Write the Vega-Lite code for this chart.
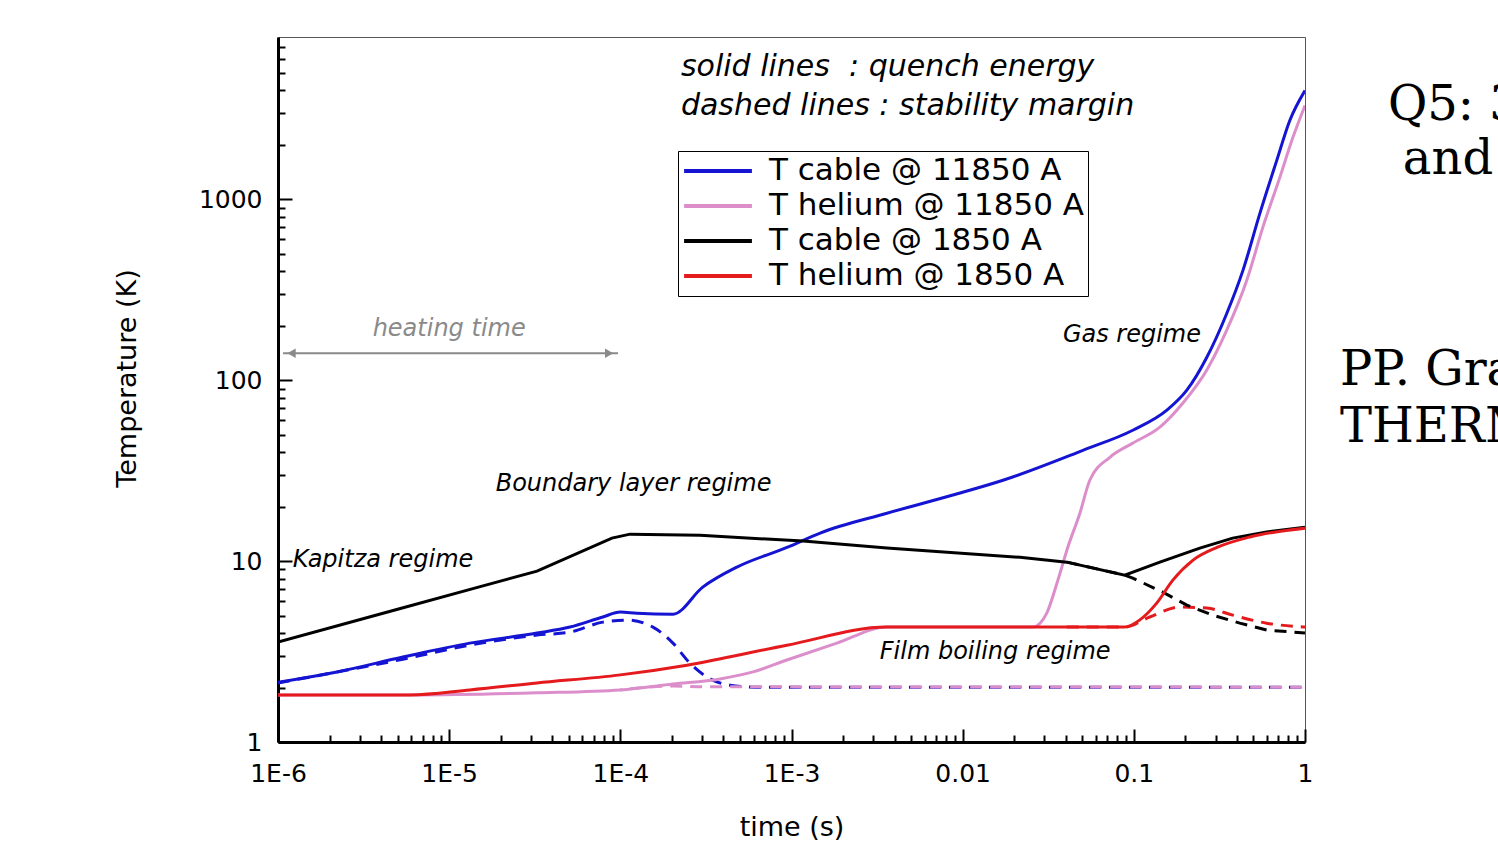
{
  "$schema": "https://vega.github.io/schema/vega-lite/v6.json",
  "width": 1027,
  "height": 705,
  "autosize": {"type": "none"},
  "padding": {"left": 278, "top": 37, "right": 193, "bottom": 114},
  "background": "white",
  "config": {
    "view": {"stroke": "#555555", "strokeWidth": 1},
    "font": "DejaVu Sans",
    "axis": {
      "labelFont": "DejaVu Sans", "labelFontSize": 25, "labelColor": "black",
      "titleFont": "DejaVu Sans", "titleFontSize": 27, "titleFontWeight": "normal", "titleColor": "black",
      "domainColor": "black", "domainWidth": 3, "tickColor": "black", "tickWidth": 2, "grid": false,
      "labelOverlap": false, "labelFlush": false
    }
  },
  "datasets": {
    "curves": [
      {"s": "T cable @ 11850 A", "k": "dashed", "t": 1e-6, "T": 2.12},
      {"s": "T cable @ 11850 A", "k": "dashed", "t": 5.37e-6, "T": 2.87},
      {"s": "T cable @ 11850 A", "k": "dashed", "t": 1.32e-5, "T": 3.43},
      {"s": "T cable @ 11850 A", "k": "dashed", "t": 3.26e-5, "T": 3.9},
      {"s": "T cable @ 11850 A", "k": "dashed", "t": 5.08e-5, "T": 4.05},
      {"s": "T cable @ 11850 A", "k": "dashed", "t": 7.9e-5, "T": 4.6},
      {"s": "T cable @ 11850 A", "k": "dashed", "t": 1.09e-4, "T": 4.72},
      {"s": "T cable @ 11850 A", "k": "dashed", "t": 1.55e-4, "T": 4.32},
      {"s": "T cable @ 11850 A", "k": "dashed", "t": 2.03e-4, "T": 3.52},
      {"s": "T cable @ 11850 A", "k": "dashed", "t": 2.55e-4, "T": 2.73},
      {"s": "T cable @ 11850 A", "k": "dashed", "t": 3.2e-4, "T": 2.29},
      {"s": "T cable @ 11850 A", "k": "dashed", "t": 4.37e-4, "T": 2.06},
      {"s": "T cable @ 11850 A", "k": "dashed", "t": 6.5e-4, "T": 2.01},
      {"s": "T cable @ 11850 A", "k": "dashed", "t": 1, "T": 2.01},

      {"s": "T cable @ 1850 A", "k": "dashed", "t": 0.0406, "T": 9.87},
      {"s": "T cable @ 1850 A", "k": "dashed", "t": 0.0885, "T": 8.37},
      {"s": "T cable @ 1850 A", "k": "dashed", "t": 0.0986, "T": 8.05},
      {"s": "T cable @ 1850 A", "k": "dashed", "t": 0.1476, "T": 6.74},
      {"s": "T cable @ 1850 A", "k": "dashed", "t": 0.204, "T": 5.71},
      {"s": "T cable @ 1850 A", "k": "dashed", "t": 0.289, "T": 5.03},
      {"s": "T cable @ 1850 A", "k": "dashed", "t": 0.416, "T": 4.54},
      {"s": "T cable @ 1850 A", "k": "dashed", "t": 0.597, "T": 4.16},
      {"s": "T cable @ 1850 A", "k": "dashed", "t": 1, "T": 4.0},

      {"s": "T helium @ 1850 A", "k": "dashed", "t": 0.0406, "T": 4.32},
      {"s": "T helium @ 1850 A", "k": "dashed", "t": 0.0885, "T": 4.32},
      {"s": "T helium @ 1850 A", "k": "dashed", "t": 0.124, "T": 4.91},
      {"s": "T helium @ 1850 A", "k": "dashed", "t": 0.186, "T": 5.57},
      {"s": "T helium @ 1850 A", "k": "dashed", "t": 0.267, "T": 5.5},
      {"s": "T helium @ 1850 A", "k": "dashed", "t": 0.378, "T": 5.03},
      {"s": "T helium @ 1850 A", "k": "dashed", "t": 0.597, "T": 4.54},
      {"s": "T helium @ 1850 A", "k": "dashed", "t": 1, "T": 4.32},

      {"s": "T helium @ 11850 A", "k": "dashed", "t": 1e-4, "T": 1.94},
      {"s": "T helium @ 11850 A", "k": "dashed", "t": 2.03e-4, "T": 2.04},
      {"s": "T helium @ 11850 A", "k": "dashed", "t": 3.2e-4, "T": 2.02},
      {"s": "T helium @ 11850 A", "k": "dashed", "t": 1, "T": 2.01},

      {"s": "T helium @ 11850 A", "k": "solid", "t": 1e-6, "T": 1.82},
      {"s": "T helium @ 11850 A", "k": "solid", "t": 5.9e-6, "T": 1.82},
      {"s": "T helium @ 11850 A", "k": "solid", "t": 3.26e-5, "T": 1.87},
      {"s": "T helium @ 11850 A", "k": "solid", "t": 1e-4, "T": 1.94},
      {"s": "T helium @ 11850 A", "k": "solid", "t": 2.03e-4, "T": 2.09},
      {"s": "T helium @ 11850 A", "k": "solid", "t": 3.82e-4, "T": 2.23},
      {"s": "T helium @ 11850 A", "k": "solid", "t": 5.96e-4, "T": 2.44},
      {"s": "T helium @ 11850 A", "k": "solid", "t": 9.4e-4, "T": 2.84},
      {"s": "T helium @ 11850 A", "k": "solid", "t": 1.84e-3, "T": 3.52},
      {"s": "T helium @ 11850 A", "k": "solid", "t": 3.61e-3, "T": 4.32},
      {"s": "T helium @ 11850 A", "k": "solid", "t": 0.0257, "T": 4.32},
      {"s": "T helium @ 11850 A", "k": "solid", "t": 0.031, "T": 5.16},
      {"s": "T helium @ 11850 A", "k": "solid", "t": 0.036, "T": 7.85},
      {"s": "T helium @ 11850 A", "k": "solid", "t": 0.0411, "T": 11.9},
      {"s": "T helium @ 11850 A", "k": "solid", "t": 0.0484, "T": 18.4},
      {"s": "T helium @ 11850 A", "k": "solid", "t": 0.0553, "T": 28.0},
      {"s": "T helium @ 11850 A", "k": "solid", "t": 0.0724, "T": 37.5},
      {"s": "T helium @ 11850 A", "k": "solid", "t": 0.0986, "T": 44.9},
      {"s": "T helium @ 11850 A", "k": "solid", "t": 0.142, "T": 55.0},
      {"s": "T helium @ 11850 A", "k": "solid", "t": 0.193, "T": 74.6},
      {"s": "T helium @ 11850 A", "k": "solid", "t": 0.267, "T": 114},
      {"s": "T helium @ 11850 A", "k": "solid", "t": 0.349, "T": 189},
      {"s": "T helium @ 11850 A", "k": "solid", "t": 0.457, "T": 357},
      {"s": "T helium @ 11850 A", "k": "solid", "t": 0.567, "T": 700},
      {"s": "T helium @ 11850 A", "k": "solid", "t": 0.713, "T": 1323},
      {"s": "T helium @ 11850 A", "k": "solid", "t": 0.85, "T": 2202},
      {"s": "T helium @ 11850 A", "k": "solid", "t": 1, "T": 3306},

      {"s": "T cable @ 11850 A", "k": "solid", "t": 1e-6, "T": 2.14},
      {"s": "T cable @ 11850 A", "k": "solid", "t": 2.21e-6, "T": 2.44},
      {"s": "T cable @ 11850 A", "k": "solid", "t": 5.37e-6, "T": 2.95},
      {"s": "T cable @ 11850 A", "k": "solid", "t": 1.32e-5, "T": 3.52},
      {"s": "T cable @ 11850 A", "k": "solid", "t": 3.26e-5, "T": 4.0},
      {"s": "T cable @ 11850 A", "k": "solid", "t": 5.08e-5, "T": 4.32},
      {"s": "T cable @ 11850 A", "k": "solid", "t": 7.9e-5, "T": 4.91},
      {"s": "T cable @ 11850 A", "k": "solid", "t": 1e-4, "T": 5.23},
      {"s": "T cable @ 11850 A", "k": "solid", "t": 1.25e-4, "T": 5.15},
      {"s": "T cable @ 11850 A", "k": "solid", "t": 2.03e-4, "T": 5.09},
      {"s": "T cable @ 11850 A", "k": "solid", "t": 3.03e-4, "T": 7.18},
      {"s": "T cable @ 11850 A", "k": "solid", "t": 4.8e-4, "T": 9.27},
      {"s": "T cable @ 11850 A", "k": "solid", "t": 9.4e-4, "T": 11.9},
      {"s": "T cable @ 11850 A", "k": "solid", "t": 1.47e-3, "T": 14.3},
      {"s": "T cable @ 11850 A", "k": "solid", "t": 3.61e-3, "T": 18.4},
      {"s": "T cable @ 11850 A", "k": "solid", "t": 8.77e-3, "T": 23.2},
      {"s": "T cable @ 11850 A", "k": "solid", "t": 0.0172, "T": 28.0},
      {"s": "T cable @ 11850 A", "k": "solid", "t": 0.0504, "T": 41.0},
      {"s": "T cable @ 11850 A", "k": "solid", "t": 0.0986, "T": 52.9},
      {"s": "T cable @ 11850 A", "k": "solid", "t": 0.156, "T": 68.3},
      {"s": "T cable @ 11850 A", "k": "solid", "t": 0.204, "T": 88.1},
      {"s": "T cable @ 11850 A", "k": "solid", "t": 0.267, "T": 134},
      {"s": "T cable @ 11850 A", "k": "solid", "t": 0.349, "T": 234},
      {"s": "T cable @ 11850 A", "k": "solid", "t": 0.434, "T": 405},
      {"s": "T cable @ 11850 A", "k": "solid", "t": 0.545, "T": 837},
      {"s": "T cable @ 11850 A", "k": "solid", "t": 0.684, "T": 1642},
      {"s": "T cable @ 11850 A", "k": "solid", "t": 0.815, "T": 2731},
      {"s": "T cable @ 11850 A", "k": "solid", "t": 1, "T": 4000},

      {"s": "T cable @ 1850 A", "k": "solid", "t": 1e-6, "T": 3.57},
      {"s": "T cable @ 1850 A", "k": "solid", "t": 5e-6, "T": 5.42},
      {"s": "T cable @ 1850 A", "k": "solid", "t": 1.5e-5, "T": 7.2},
      {"s": "T cable @ 1850 A", "k": "solid", "t": 3.26e-5, "T": 8.81},
      {"s": "T cable @ 1850 A", "k": "solid", "t": 8.93e-5, "T": 13.4},
      {"s": "T cable @ 1850 A", "k": "solid", "t": 1.14e-4, "T": 14.1},
      {"s": "T cable @ 1850 A", "k": "solid", "t": 2.92e-4, "T": 13.9},
      {"s": "T cable @ 1850 A", "k": "solid", "t": 1.17e-3, "T": 12.9},
      {"s": "T cable @ 1850 A", "k": "solid", "t": 3.61e-3, "T": 11.8},
      {"s": "T cable @ 1850 A", "k": "solid", "t": 0.0216, "T": 10.5},
      {"s": "T cable @ 1850 A", "k": "solid", "t": 0.0406, "T": 9.87},
      {"s": "T cable @ 1850 A", "k": "solid", "t": 0.0885, "T": 8.37},
      {"s": "T cable @ 1850 A", "k": "solid", "t": 0.142, "T": 9.87},
      {"s": "T cable @ 1850 A", "k": "solid", "t": 0.243, "T": 11.8},
      {"s": "T cable @ 1850 A", "k": "solid", "t": 0.378, "T": 13.4},
      {"s": "T cable @ 1850 A", "k": "solid", "t": 0.597, "T": 14.5},
      {"s": "T cable @ 1850 A", "k": "solid", "t": 1, "T": 15.4},

      {"s": "T helium @ 1850 A", "k": "solid", "t": 1e-6, "T": 1.82},
      {"s": "T helium @ 1850 A", "k": "solid", "t": 5.9e-6, "T": 1.82},
      {"s": "T helium @ 1850 A", "k": "solid", "t": 1.32e-5, "T": 1.94},
      {"s": "T helium @ 1850 A", "k": "solid", "t": 3.26e-5, "T": 2.12},
      {"s": "T helium @ 1850 A", "k": "solid", "t": 1e-4, "T": 2.35},
      {"s": "T helium @ 1850 A", "k": "solid", "t": 2.45e-4, "T": 2.66},
      {"s": "T helium @ 1850 A", "k": "solid", "t": 9.4e-4, "T": 3.43},
      {"s": "T helium @ 1850 A", "k": "solid", "t": 3.61e-3, "T": 4.32},
      {"s": "T helium @ 1850 A", "k": "solid", "t": 0.0885, "T": 4.32},
      {"s": "T helium @ 1850 A", "k": "solid", "t": 0.108, "T": 4.72},
      {"s": "T helium @ 1850 A", "k": "solid", "t": 0.136, "T": 5.86},
      {"s": "T helium @ 1850 A", "k": "solid", "t": 0.169, "T": 7.85},
      {"s": "T helium @ 1850 A", "k": "solid", "t": 0.221, "T": 10.1},
      {"s": "T helium @ 1850 A", "k": "solid", "t": 0.306, "T": 11.9},
      {"s": "T helium @ 1850 A", "k": "solid", "t": 0.477, "T": 13.6},
      {"s": "T helium @ 1850 A", "k": "solid", "t": 1, "T": 15.2}
    ]
  },
  "layer": [
    {
      "data": {"name": "curves"},
      "transform": [{"filter": "datum.k == 'dashed' && (datum.s == 'T cable @ 11850 A' || datum.s == 'T helium @ 1850 A')"}],
      "mark": {"type": "line", "strokeWidth": 3, "strokeDash": [12, 8], "interpolate": "monotone", "clip": true},
      "encoding": {
        "x": {
          "field": "t", "type": "quantitative",
          "scale": {"type": "log", "domain": [1e-6, 1], "nice": false},
          "axis": {
            "title": "time (s)",
            "values": [1e-6,2e-6,3e-6,4e-6,5e-6,6e-6,7e-6,8e-6,9e-6,1e-5,2e-5,3e-5,4e-5,5e-5,6e-5,7e-5,8e-5,9e-5,1e-4,2e-4,3e-4,4e-4,5e-4,6e-4,7e-4,8e-4,9e-4,1e-3,2e-3,3e-3,4e-3,5e-3,6e-3,7e-3,8e-3,9e-3,0.01,0.02,0.03,0.04,0.05,0.06,0.07,0.08,0.09,0.1,0.2,0.3,0.4,0.5,0.6,0.7,0.8,0.9,1],
            "labelExpr": "abs(log(datum.value)/LN10 - round(log(datum.value)/LN10)) > 0.001 ? '' : (datum.value < 0.005 ? '1E' + round(log(datum.value)/LN10) : format(datum.value, '~g'))",
            "tickSize": {"condition": {"test": "abs(log(datum.value)/LN10 - round(log(datum.value)/LN10)) < 0.001", "value": -13}, "value": -7},
            "labelPadding": 32,
            "titlePadding": 22
          }
        },
        "y": {
          "field": "T", "type": "quantitative",
          "scale": {"type": "log", "domain": [1, 7900], "nice": false},
          "axis": {
            "title": "Temperature (K)",
            "values": [1,2,3,4,5,6,7,8,9,10,20,30,40,50,60,70,80,90,100,200,300,400,500,600,700,800,900,1000,2000,3000,4000,5000,6000,7000],
            "labelExpr": "abs(log(datum.value)/LN10 - round(log(datum.value)/LN10)) > 0.001 ? '' : format(datum.value, 'd')",
            "tickSize": {"condition": {"test": "abs(log(datum.value)/LN10 - round(log(datum.value)/LN10)) < 0.001", "value": -14}, "value": -7},
            "labelPadding": 30,
            "titlePadding": 57,
            "titleY": 341
          }
        },
        "color": {
          "field": "s", "type": "nominal",
          "scale": {
            "domain": ["T cable @ 11850 A", "T helium @ 11850 A", "T cable @ 1850 A", "T helium @ 1850 A"],
            "range": ["#1414d2", "#dc8ecb", "#000000", "#e41a1c"]
          }
        }
      }
    },
    {
      "data": {"name": "curves"},
      "transform": [{"filter": "datum.k == 'dashed' && datum.s == 'T cable @ 1850 A'"}],
      "mark": {"type": "line", "strokeWidth": 3, "strokeDash": [12, 8], "clip": true},
      "encoding": {
        "x": {"field": "t", "type": "quantitative"},
        "y": {"field": "T", "type": "quantitative"},
        "color": {"field": "s", "type": "nominal"}
      }
    },
    {
      "data": {"name": "curves"},
      "transform": [{"filter": "datum.k == 'dashed' && datum.s == 'T helium @ 11850 A'"}],
      "mark": {"type": "line", "strokeWidth": 3, "strokeDash": [12, 8], "strokeDashOffset": 10, "interpolate": "monotone", "clip": true},
      "encoding": {
        "x": {"field": "t", "type": "quantitative"},
        "y": {"field": "T", "type": "quantitative"},
        "color": {"field": "s", "type": "nominal"}
      }
    },
    {
      "data": {"name": "curves"},
      "transform": [{"filter": "datum.k == 'solid' && (datum.s == 'T helium @ 11850 A' || datum.s == 'T cable @ 11850 A')"}],
      "mark": {"type": "line", "strokeWidth": 3, "interpolate": "monotone", "clip": true},
      "encoding": {
        "x": {"field": "t", "type": "quantitative"},
        "y": {"field": "T", "type": "quantitative"},
        "color": {
          "field": "s", "type": "nominal",
          "legend": {
            "title": null,
            "orient": "none",
            "legendX": 400,
            "legendY": 114,
            "direction": "vertical",
            "symbolType": "stroke",
            "symbolSize": 4600,
            "symbolStrokeWidth": 4,
            "symbolDash": [],
            "labelFont": "DejaVu Sans",
            "labelFontSize": 31,
            "labelColor": "black",
            "labelOffset": 15,
            "labelLimit": 500,
            "clipHeight": 32,
            "rowPadding": 3,
            "padding": 4,
            "strokeColor": "black",
            "fillColor": "white"
          }
        }
      }
    },
    {
      "data": {"name": "curves"},
      "transform": [{"filter": "datum.k == 'solid' && datum.s == 'T cable @ 1850 A'"}],
      "mark": {"type": "line", "strokeWidth": 3, "clip": true},
      "encoding": {
        "x": {"field": "t", "type": "quantitative"},
        "y": {"field": "T", "type": "quantitative"},
        "color": {"field": "s", "type": "nominal"}
      }
    },
    {
      "data": {"name": "curves"},
      "transform": [{"filter": "datum.k == 'solid' && datum.s == 'T helium @ 1850 A'"}],
      "mark": {"type": "line", "strokeWidth": 3, "interpolate": "monotone", "clip": true},
      "encoding": {
        "x": {"field": "t", "type": "quantitative"},
        "y": {"field": "T", "type": "quantitative"},
        "color": {"field": "s", "type": "nominal"}
      }
    },
    {
      "mark": {"type": "rule", "color": "#8a8a8a", "strokeWidth": 2, "strokeDash": [10, 7]},
      "encoding": {"x": {"datum": 0.0001}}
    },
    {
      "data": {"values": [{"t": 1.07e-6, "t2": 9.7e-5, "T": 141}]},
      "mark": {"type": "rule", "color": "#8a8a8a", "strokeWidth": 2},
      "encoding": {
        "x": {"field": "t", "type": "quantitative"},
        "x2": {"field": "t2"},
        "y": {"field": "T", "type": "quantitative"}
      }
    },
    {
      "data": {"values": [{"t": 1.2e-6, "T": 141, "d": "left"}, {"t": 8.6e-5, "T": 141, "d": "right"}]},
      "mark": {"type": "point", "filled": true, "color": "#8a8a8a", "size": 90, "opacity": 1},
      "encoding": {
        "x": {"field": "t", "type": "quantitative"},
        "y": {"field": "T", "type": "quantitative"},
        "shape": {"field": "d", "type": "nominal", "scale": {"domain": ["left", "right"], "range": ["triangle-left", "triangle-right"]}, "legend": null}
      }
    },
    {
      "data": {"values": [{"label": "heating time", "t": 1.0e-5, "T": 191}]},
      "mark": {"type": "text", "font": "DejaVu Sans", "fontStyle": "italic", "fontSize": 24, "color": "#8a8a8a", "align": "center", "baseline": "middle"},
      "encoding": {
        "x": {"field": "t", "type": "quantitative"},
        "y": {"field": "T", "type": "quantitative"},
        "text": {"field": "label"}
      }
    },
    {
      "data": {"values": [
        {"label": "Kapitza regime", "t": 1.22e-6, "T": 10.1},
        {"label": "Boundary layer regime", "t": 1.87e-5, "T": 26.6},
        {"label": "Film boiling regime", "t": 3.28e-3, "T": 3.14},
        {"label": "Gas regime", "t": 0.0385, "T": 177}
      ]},
      "mark": {"type": "text", "font": "DejaVu Sans", "fontStyle": "italic", "fontSize": 24, "color": "black", "align": "left", "baseline": "middle"},
      "encoding": {
        "x": {"field": "t", "type": "quantitative"},
        "y": {"field": "T", "type": "quantitative"},
        "text": {"field": "label"}
      }
    },
    {
      "data": {"values": [
        {"label": "solid lines \u00a0: quench energy", "t": 2.26e-4, "T": 5360},
        {"label": "dashed lines : stability margin", "t": 2.26e-4, "T": 3265}
      ]},
      "mark": {"type": "text", "font": "DejaVu Sans", "fontStyle": "italic", "fontSize": 30, "color": "black", "align": "left", "baseline": "middle"},
      "encoding": {
        "x": {"field": "t", "type": "quantitative"},
        "y": {"field": "T", "type": "quantitative"},
        "text": {"field": "label"}
      }
    },
    {
      "data": {"values": [
        {"label": "Q5: 3", "t": 3.05, "T": 2730},
        {"label": "and", "t": 3.73, "T": 1375},
        {"label": "PP. Granieri", "t": 1.6, "T": 93.8},
        {"label": "THERMAL", "t": 1.6, "T": 45.4}
      ]},
      "mark": {"type": "text", "font": "DejaVu Serif", "fontSize": 48, "color": "black", "align": "left", "baseline": "alphabetic", "clip": false},
      "encoding": {
        "x": {"field": "t", "type": "quantitative"},
        "y": {"field": "T", "type": "quantitative"},
        "text": {"field": "label"}
      }
    }
  ]
}
